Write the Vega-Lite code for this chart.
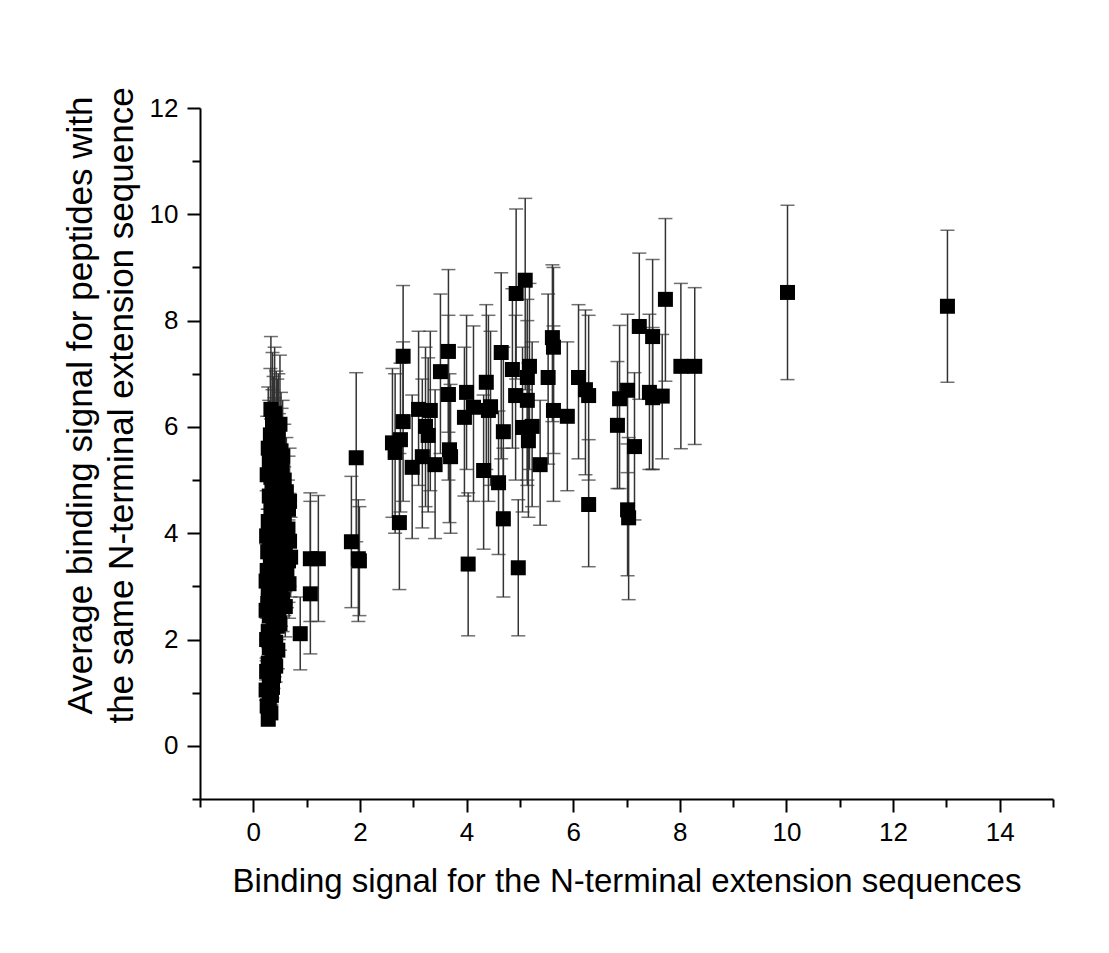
{
  "$schema": "https://vega.github.io/schema/vega-lite/v6.json",
  "autosize": {"type": "none"},
  "width": 853,
  "height": 691,
  "padding": {"left": 200, "top": 108, "right": 56, "bottom": 154},
  "background": "white",
  "config": {
    "view": {"stroke": null},
    "axis": {
      "grid": false,
      "domainColor": "black",
      "domainWidth": 2,
      "tickColor": "black",
      "tickWidth": 2,
      "labelFont": "Liberation Sans",
      "labelFontSize": 26,
      "labelColor": "black",
      "titleFont": "Liberation Sans",
      "titleFontWeight": "normal",
      "titleColor": "black"
    }
  },
  "data": {
    "values": [
      {"x": 13.02, "y": 8.27, "lo": 6.84, "hi": 9.70},
      {"x": 10.02, "y": 8.53, "lo": 6.89, "hi": 10.17},
      {"x": 8.02, "y": 7.14, "lo": 5.59, "hi": 8.70},
      {"x": 8.28, "y": 7.14, "lo": 5.67, "hi": 8.62},
      {"x": 7.73, "y": 8.40, "lo": 6.86, "hi": 9.92},
      {"x": 7.24, "y": 7.89, "lo": 6.52, "hi": 9.27},
      {"x": 7.49, "y": 7.70, "lo": 5.20, "hi": 9.15},
      {"x": 6.87, "y": 6.53, "lo": 4.84, "hi": 7.91},
      {"x": 7.02, "y": 6.69, "lo": 5.14, "hi": 8.12},
      {"x": 6.83, "y": 6.03, "lo": 4.84, "hi": 7.23},
      {"x": 7.15, "y": 5.63, "lo": 4.25, "hi": 7.02},
      {"x": 7.02, "y": 4.44, "lo": 3.20, "hi": 5.68},
      {"x": 7.04, "y": 4.29, "lo": 2.75, "hi": 5.80},
      {"x": 7.43, "y": 6.65, "lo": 5.20, "hi": 8.12},
      {"x": 7.49, "y": 6.55, "lo": 5.20, "hi": 7.87},
      {"x": 7.67, "y": 6.58, "lo": 5.40, "hi": 7.74},
      {"x": 6.10, "y": 6.93, "lo": 5.40, "hi": 8.30},
      {"x": 6.23, "y": 6.70, "lo": 5.10, "hi": 8.20},
      {"x": 6.29, "y": 6.59, "lo": 5.00, "hi": 8.10},
      {"x": 6.29, "y": 4.54, "lo": 3.37, "hi": 5.76},
      {"x": 5.89, "y": 6.20, "lo": 4.80, "hi": 7.60},
      {"x": 5.63, "y": 6.31, "lo": 4.60, "hi": 7.90},
      {"x": 5.61, "y": 7.68, "lo": 6.10, "hi": 9.05},
      {"x": 5.63, "y": 7.50, "lo": 5.50, "hi": 9.00},
      {"x": 5.53, "y": 6.93, "lo": 5.30, "hi": 8.50},
      {"x": 5.38, "y": 5.29, "lo": 4.15, "hi": 6.50},
      {"x": 5.14, "y": 6.50, "lo": 4.90, "hi": 8.00},
      {"x": 5.05, "y": 5.99, "lo": 4.40, "hi": 7.50},
      {"x": 5.23, "y": 6.01, "lo": 4.50, "hi": 7.60},
      {"x": 5.16, "y": 5.74, "lo": 4.30, "hi": 7.20},
      {"x": 5.18, "y": 7.14, "lo": 5.20, "hi": 8.70},
      {"x": 5.14, "y": 6.93, "lo": 5.00, "hi": 8.40},
      {"x": 5.10, "y": 8.76, "lo": 6.70, "hi": 10.30},
      {"x": 4.93, "y": 8.51, "lo": 6.90, "hi": 10.10},
      {"x": 4.86, "y": 7.08, "lo": 5.60, "hi": 8.60},
      {"x": 4.92, "y": 6.59, "lo": 5.00, "hi": 8.10},
      {"x": 4.97, "y": 3.35, "lo": 2.07, "hi": 4.63},
      {"x": 4.65, "y": 7.40, "lo": 5.40, "hi": 8.90},
      {"x": 4.69, "y": 5.91, "lo": 4.40, "hi": 7.50},
      {"x": 4.60, "y": 4.95, "lo": 3.60, "hi": 6.30},
      {"x": 4.69, "y": 4.27, "lo": 2.80, "hi": 5.60},
      {"x": 4.37, "y": 6.84, "lo": 5.20, "hi": 8.30},
      {"x": 4.45, "y": 6.38, "lo": 4.90, "hi": 7.80},
      {"x": 4.41, "y": 6.31, "lo": 4.60, "hi": 8.10},
      {"x": 4.32, "y": 5.18, "lo": 3.70, "hi": 6.60},
      {"x": 4.00, "y": 6.65, "lo": 5.20, "hi": 8.10},
      {"x": 4.13, "y": 6.37, "lo": 4.60, "hi": 7.90},
      {"x": 3.96, "y": 6.18, "lo": 4.70, "hi": 7.50},
      {"x": 4.03, "y": 3.42, "lo": 2.07, "hi": 4.76},
      {"x": 3.66, "y": 7.42, "lo": 5.90, "hi": 8.96},
      {"x": 3.66, "y": 6.61, "lo": 5.00, "hi": 8.10},
      {"x": 3.68, "y": 5.57, "lo": 4.20, "hi": 7.00},
      {"x": 3.70, "y": 5.44, "lo": 4.00, "hi": 6.80},
      {"x": 3.51, "y": 7.04, "lo": 5.50, "hi": 8.50},
      {"x": 3.41, "y": 5.29, "lo": 3.90, "hi": 6.70},
      {"x": 3.32, "y": 6.31, "lo": 4.80, "hi": 7.80},
      {"x": 3.23, "y": 6.01, "lo": 4.50, "hi": 7.50},
      {"x": 3.28, "y": 5.84, "lo": 4.40, "hi": 7.30},
      {"x": 3.10, "y": 6.33, "lo": 4.90, "hi": 7.80},
      {"x": 2.98, "y": 5.24, "lo": 3.90, "hi": 6.60},
      {"x": 3.17, "y": 5.44, "lo": 4.10, "hi": 6.90},
      {"x": 2.81, "y": 6.10, "lo": 4.60, "hi": 7.60},
      {"x": 2.81, "y": 7.33, "lo": 6.00, "hi": 8.66},
      {"x": 2.74, "y": 4.20, "lo": 2.94, "hi": 5.50},
      {"x": 2.61, "y": 5.70, "lo": 4.30, "hi": 7.10},
      {"x": 2.76, "y": 5.76, "lo": 4.40, "hi": 7.20},
      {"x": 2.66, "y": 5.52, "lo": 4.00, "hi": 7.00},
      {"x": 1.93, "y": 5.42, "lo": 3.84, "hi": 7.02},
      {"x": 1.84, "y": 3.84, "lo": 2.60, "hi": 5.07},
      {"x": 1.97, "y": 3.52, "lo": 2.34, "hi": 4.63},
      {"x": 1.99, "y": 3.48, "lo": 2.45, "hi": 4.50},
      {"x": 1.07, "y": 3.52, "lo": 2.34, "hi": 4.76},
      {"x": 1.22, "y": 3.52, "lo": 2.34, "hi": 4.71},
      {"x": 1.07, "y": 2.86, "lo": 1.73, "hi": 4.60},
      {"x": 0.88, "y": 2.11, "lo": 1.43, "hi": 2.80},
      {"x": 0.33, "y": 6.33, "lo": 4.95, "hi": 7.70},
      {"x": 0.40, "y": 6.25, "lo": 5.00, "hi": 7.50},
      {"x": 0.36, "y": 6.10, "lo": 4.80, "hi": 7.40},
      {"x": 0.43, "y": 5.98, "lo": 4.90, "hi": 7.05},
      {"x": 0.32, "y": 5.85, "lo": 4.60, "hi": 7.10},
      {"x": 0.38, "y": 5.72, "lo": 4.50, "hi": 6.95},
      {"x": 0.45, "y": 5.62, "lo": 4.40, "hi": 6.90},
      {"x": 0.52, "y": 5.55, "lo": 4.45, "hi": 6.65},
      {"x": 0.36, "y": 5.48, "lo": 4.30, "hi": 6.70},
      {"x": 0.55, "y": 5.45, "lo": 4.40, "hi": 6.50},
      {"x": 0.30, "y": 5.35, "lo": 4.20, "hi": 6.50},
      {"x": 0.42, "y": 5.25, "lo": 4.10, "hi": 6.40},
      {"x": 0.48, "y": 5.15, "lo": 4.05, "hi": 6.25},
      {"x": 0.33, "y": 5.05, "lo": 3.95, "hi": 6.15},
      {"x": 0.58, "y": 5.00, "lo": 3.95, "hi": 6.05},
      {"x": 0.35, "y": 4.92, "lo": 3.85, "hi": 6.00},
      {"x": 0.45, "y": 4.85, "lo": 3.80, "hi": 5.90},
      {"x": 0.62, "y": 4.78, "lo": 3.75, "hi": 5.80},
      {"x": 0.30, "y": 4.70, "lo": 3.70, "hi": 5.70},
      {"x": 0.52, "y": 4.65, "lo": 3.65, "hi": 5.65},
      {"x": 0.40, "y": 4.55, "lo": 3.55, "hi": 5.55},
      {"x": 0.68, "y": 4.60, "lo": 3.60, "hi": 5.60},
      {"x": 0.33, "y": 4.45, "lo": 3.50, "hi": 5.40},
      {"x": 0.48, "y": 4.38, "lo": 3.40, "hi": 5.35},
      {"x": 0.58, "y": 4.30, "lo": 3.35, "hi": 5.25},
      {"x": 0.28, "y": 4.22, "lo": 3.30, "hi": 5.15},
      {"x": 0.42, "y": 4.15, "lo": 3.25, "hi": 5.05},
      {"x": 0.65, "y": 4.08, "lo": 3.15, "hi": 5.00},
      {"x": 0.36, "y": 4.02, "lo": 3.15, "hi": 4.90},
      {"x": 0.50, "y": 3.95, "lo": 3.10, "hi": 4.80},
      {"x": 0.30, "y": 3.88, "lo": 3.05, "hi": 4.70},
      {"x": 0.44, "y": 3.80, "lo": 3.00, "hi": 4.60},
      {"x": 0.60, "y": 3.72, "lo": 2.90, "hi": 4.55},
      {"x": 0.27, "y": 3.65, "lo": 2.85, "hi": 4.45},
      {"x": 0.38, "y": 3.58, "lo": 2.80, "hi": 4.35},
      {"x": 0.55, "y": 3.52, "lo": 2.75, "hi": 4.30},
      {"x": 0.70, "y": 3.55, "lo": 2.80, "hi": 4.30},
      {"x": 0.66, "y": 3.48, "lo": 2.70, "hi": 4.25},
      {"x": 0.32, "y": 3.45, "lo": 2.70, "hi": 4.20},
      {"x": 0.46, "y": 3.38, "lo": 2.65, "hi": 4.10},
      {"x": 0.26, "y": 3.30, "lo": 2.60, "hi": 4.00},
      {"x": 0.40, "y": 3.22, "lo": 2.50, "hi": 3.95},
      {"x": 0.58, "y": 3.15, "lo": 2.45, "hi": 3.85},
      {"x": 0.35, "y": 3.08, "lo": 2.40, "hi": 3.75},
      {"x": 0.50, "y": 3.02, "lo": 2.35, "hi": 3.70},
      {"x": 0.28, "y": 2.96, "lo": 2.30, "hi": 3.60},
      {"x": 0.43, "y": 2.90, "lo": 2.25, "hi": 3.55},
      {"x": 0.33, "y": 2.82, "lo": 2.20, "hi": 3.45},
      {"x": 0.55, "y": 2.75, "lo": 2.15, "hi": 3.35},
      {"x": 0.27, "y": 2.68, "lo": 2.10, "hi": 3.25},
      {"x": 0.40, "y": 2.60, "lo": 2.05, "hi": 3.15},
      {"x": 0.48, "y": 2.52, "lo": 2.00, "hi": 3.05},
      {"x": 0.30, "y": 2.45, "lo": 1.95, "hi": 2.95},
      {"x": 0.38, "y": 2.35, "lo": 1.85, "hi": 2.85},
      {"x": 0.45, "y": 2.25, "lo": 1.80, "hi": 2.70},
      {"x": 0.28, "y": 2.15, "lo": 1.70, "hi": 2.60},
      {"x": 0.36, "y": 2.05, "lo": 1.65, "hi": 2.45},
      {"x": 0.42, "y": 1.95, "lo": 1.55, "hi": 2.35},
      {"x": 0.30, "y": 1.85, "lo": 1.50, "hi": 2.20},
      {"x": 0.35, "y": 1.72, "lo": 1.40, "hi": 2.05},
      {"x": 0.40, "y": 1.60, "lo": 1.30, "hi": 1.90},
      {"x": 0.28, "y": 1.55, "lo": 1.25, "hi": 1.85},
      {"x": 0.33, "y": 1.45, "lo": 1.18, "hi": 1.72},
      {"x": 0.38, "y": 1.32, "lo": 1.08, "hi": 1.56},
      {"x": 0.30, "y": 1.20, "lo": 0.98, "hi": 1.42},
      {"x": 0.24, "y": 1.05, "lo": 0.86, "hi": 1.24},
      {"x": 0.34, "y": 0.95, "lo": 0.78, "hi": 1.12},
      {"x": 0.30, "y": 0.80, "lo": 0.66, "hi": 0.94},
      {"x": 0.33, "y": 0.62, "lo": 0.51, "hi": 0.73},
      {"x": 0.28, "y": 0.50, "lo": 0.41, "hi": 0.59},
      {"x": 0.50, "y": 6.05, "lo": 4.85, "hi": 7.35},
      {"x": 0.47, "y": 5.80, "lo": 4.60, "hi": 7.00},
      {"x": 0.28, "y": 5.60, "lo": 4.45, "hi": 6.75},
      {"x": 0.40, "y": 5.40, "lo": 4.30, "hi": 6.55},
      {"x": 0.53, "y": 5.22, "lo": 4.15, "hi": 6.35},
      {"x": 0.26, "y": 5.10, "lo": 4.05, "hi": 6.20},
      {"x": 0.66, "y": 4.45, "lo": 3.50, "hi": 5.45},
      {"x": 0.52, "y": 4.20, "lo": 3.30, "hi": 5.10},
      {"x": 0.68, "y": 3.85, "lo": 3.00, "hi": 4.75},
      {"x": 0.25, "y": 3.95, "lo": 3.10, "hi": 4.80},
      {"x": 0.63, "y": 3.30, "lo": 2.60, "hi": 4.05},
      {"x": 0.67, "y": 3.05, "lo": 2.40, "hi": 3.75},
      {"x": 0.24, "y": 3.10, "lo": 2.45, "hi": 3.80},
      {"x": 0.52, "y": 2.85, "lo": 2.25, "hi": 3.50},
      {"x": 0.60, "y": 2.62, "lo": 2.05, "hi": 3.20},
      {"x": 0.24, "y": 2.55, "lo": 2.00, "hi": 3.10},
      {"x": 0.50, "y": 2.30, "lo": 1.80, "hi": 2.80},
      {"x": 0.25, "y": 2.00, "lo": 1.60, "hi": 2.40},
      {"x": 0.46, "y": 1.80, "lo": 1.45, "hi": 2.15},
      {"x": 0.25, "y": 1.40, "lo": 1.15, "hi": 1.65},
      {"x": 0.42, "y": 1.50, "lo": 1.20, "hi": 1.80},
      {"x": 0.36, "y": 1.10, "lo": 0.90, "hi": 1.30},
      {"x": 0.26, "y": 0.75, "lo": 0.62, "hi": 0.88}
    ]
  },
  "encoding": {
    "x": {
      "field": "x",
      "type": "quantitative",
      "scale": {"domain": [-1, 15], "nice": false, "zero": false},
      "axis": {
        "title": "Binding signal for the N-terminal extension sequences",
        "titleFontSize": 33,
        "values": [-1, 0, 1, 2, 3, 4, 5, 6, 7, 8, 9, 10, 11, 12, 13, 14, 15],
        "labelExpr": "datum.value % 2 === 0 ? datum.label : ''",
        "tickSize": {"condition": {"test": "datum.value % 2 === 0", "value": 13}, "value": 8},
        "labelPadding": 7,
        "titleY": 66,
        "titleBaseline": "top"
      }
    }
  },
  "layer": [
    {
      "mark": {"type": "rule", "color": "#333333", "strokeWidth": 1.5},
      "encoding": {
        "y": {
          "field": "lo",
          "type": "quantitative",
          "scale": {"domain": [-1, 12], "nice": false, "zero": false},
          "axis": {
            "title": ["Average binding signal for peptides with", "the same N-terminal extension sequence"],
            "titleFontSize": 35,
            "values": [-1, 0, 1, 2, 3, 4, 5, 6, 7, 8, 9, 10, 11, 12],
            "labelExpr": "datum.value % 2 === 0 ? datum.label : ''",
            "tickSize": {"condition": {"test": "datum.value % 2 === 0", "value": 13}, "value": 8},
            "labelPadding": 9,
            "titleAngle": -90,
            "titleX": -120,
            "titleY": 297,
            "titleAlign": "center",
            "titleBaseline": "middle",
            "titleLineHeight": 41
          }
        },
        "y2": {"field": "hi"}
      }
    },
    {
      "mark": {"type": "tick", "orient": "horizontal", "size": 14, "thickness": 1.5, "color": "#333333"},
      "encoding": {"y": {"field": "lo", "type": "quantitative"}}
    },
    {
      "mark": {"type": "tick", "orient": "horizontal", "size": 14, "thickness": 1.5, "color": "#333333"},
      "encoding": {"y": {"field": "hi", "type": "quantitative"}}
    },
    {
      "mark": {"type": "point", "shape": "square", "filled": true, "size": 225, "color": "black", "opacity": 1},
      "encoding": {"y": {"field": "y", "type": "quantitative"}}
    }
  ]
}
